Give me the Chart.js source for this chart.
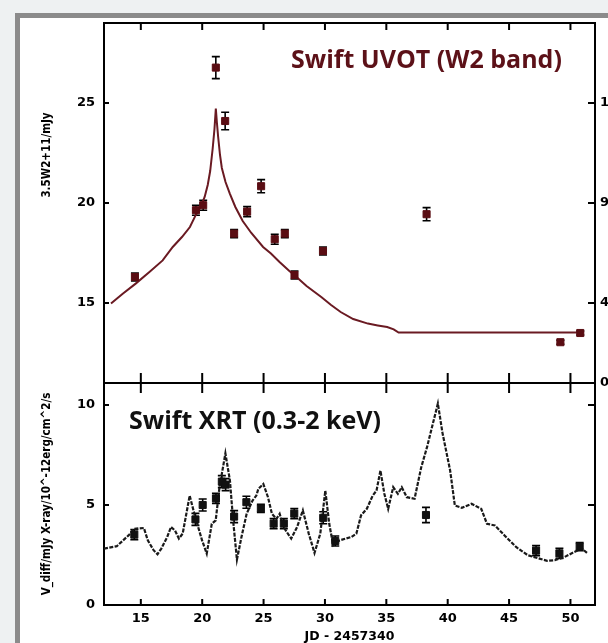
<!DOCTYPE html>
<html>
<head>
<meta charset="utf-8">
<script src="https://cdn.jsdelivr.net/npm/chart.js@4.4.0/dist/chart.umd.min.js"></script>
<style>
  html, body { margin: 0; padding: 0; width: 608px; height: 643px; overflow: hidden; background: #eef1f2; }
  .frame { position: absolute; left: 15px; top: 13px; width: 700px; height: 700px;
           border-left: 5px solid #8b8b8b; border-top: 5px solid #8b8b8b; background: #fff; }
  canvas { position: absolute; left: 0; top: 0; }
</style>
</head>
<body>
<div class="frame"></div>
<canvas id="uvot" width="608" height="643"></canvas>
<canvas id="xrt" width="608" height="643"></canvas>
<script>
// axes
const xTicks = [15, 20, 25, 30, 35, 40, 45, 50];
const uvotTicks = [15, 20, 25];
const uvotRightTicks = [11, 15, 20, 25];
const xrtTicks = [0, 5, 10];

// Swift UVOT W2 points
const uvotJD   = [14.52, 19.49, 20.08, 21.11, 21.87, 22.6, 23.66, 24.8, 25.91, 26.73, 27.52, 29.84, 38.28, 49.18, 50.8];
const uvotFlux = [16.3, 19.64, 19.89, 26.77, 24.1, 18.47, 19.57, 20.84, 18.19, 18.47, 16.4, 17.6, 19.44, 13.04, 13.5];
const uvotErr  = [0.2, 0.25, 0.25, 0.55, 0.44, 0.2, 0.25, 0.33, 0.25, 0.2, 0.2, 0.2, 0.33, 0.1, 0.1];

// model curve
const modelJD   = [12.57, 13.5, 14.58, 15.7, 16.78, 17.6, 18.35, 19.0, 19.46, 19.9, 20.2, 20.45, 20.65, 20.85, 21.0, 21.11,
                   21.2, 21.3, 21.45, 21.6, 21.9, 22.25, 22.7, 23.3, 24.0, 24.96, 25.6, 26.3, 27.1, 27.5, 28.5, 29.7,
                   30.5, 31.28, 32.3, 33.5, 34.3, 35.07, 35.6, 36.0, 51.1];
const modelFlux = [14.97, 15.45, 15.97, 16.55, 17.13, 17.8, 18.3, 18.8, 19.38, 19.85, 20.3, 20.9, 21.6, 22.7, 23.7, 24.72,
                   24.0, 23.3, 22.4, 21.75, 21.05, 20.47, 19.8, 19.1, 18.5, 17.8, 17.47, 17.05, 16.6, 16.4, 15.85, 15.3,
                   14.9, 14.55, 14.2, 13.97, 13.88, 13.8, 13.68, 13.52, 13.52];

// Swift XRT points
const xrtJD   = [14.47, 19.45, 20.04, 21.12, 21.6, 21.91, 22.6, 23.6, 24.78, 25.82, 26.65, 27.5, 29.86, 30.84, 38.23, 47.2, 49.1, 50.75];
const xrtFlux = [3.52, 4.28, 5.0, 5.33, 6.17, 6.02, 4.42, 5.14, 4.83, 4.07, 4.07, 4.57, 4.36, 3.2, 4.5, 2.72, 2.58, 2.92];
const xrtErr  = [0.25, 0.3, 0.3, 0.25, 0.3, 0.3, 0.3, 0.3, 0.2, 0.25, 0.25, 0.25, 0.3, 0.25, 0.38, 0.25, 0.25, 0.2];

// dashed curve in the lower panel
const curveJD   = [12.0, 13.04, 14.0, 14.46, 15.25, 15.57, 16.04, 16.36, 16.67, 17.15, 17.46, 17.78, 18.1, 18.41, 18.98,
                   19.36, 19.67, 19.99, 20.37, 20.78, 21.1, 21.41, 21.89, 22.26, 22.52, 22.83, 23.2, 23.62, 24.1, 24.41,
                   24.57, 24.98, 25.36, 25.68, 26.05, 26.31, 26.62, 27.25, 27.73, 28.2, 28.68, 29.15, 29.62, 30.03, 30.35,
                   30.67, 31.2, 32.15, 32.56, 32.94, 33.41, 33.89, 34.2, 34.52, 34.84, 35.15, 35.56, 35.94, 36.26, 36.67,
                   37.3, 37.84, 38.31, 38.78, 39.2, 39.57, 40.2, 40.58, 41.15, 41.94, 42.73, 43.2, 43.84, 44.63, 45.57,
                   46.52, 47.47, 48.1, 48.73, 49.52, 50.31, 50.94, 51.42];
const curveFlux = [2.82, 2.94, 3.48, 3.81, 3.85, 3.23, 2.74, 2.54, 2.82, 3.4, 3.9, 3.73, 3.32, 3.57, 5.47,
                   4.56, 3.9, 3.23, 2.57, 4.06, 4.23, 5.89, 7.58, 6.22, 4.23, 2.27, 3.4, 4.56, 5.22, 5.47,
                   5.8, 6.05, 5.39, 4.56, 4.31, 4.56, 3.9, 3.32, 3.9, 4.73, 3.57, 2.6, 3.57, 5.72, 4.06,
                   2.99, 3.23, 3.4, 3.57, 4.48, 4.81, 5.47, 5.72, 6.72, 5.56, 4.81, 5.89, 5.56, 5.89, 5.39,
                   5.31, 6.88, 7.88, 9.04, 10.07, 8.62, 6.72, 4.98, 4.86, 5.06, 4.81, 4.06, 3.98, 3.48, 2.9,
                   2.49, 2.32, 2.21, 2.24, 2.4, 2.65, 2.82, 2.57];

const maroon = '#5a0d13';
const tickFont = { family: '"DejaVu Sans", sans-serif', size: 13, weight: 'bold' };
const titleFont = { family: '"DejaVu Sans Condensed", "DejaVu Sans", sans-serif', size: 11.5, weight: 'bold', lineHeight: 1 };

const toPoints = (xs, ys) => xs.map((x, i) => ({ x, y: ys[i] }));
const setTicks = list => scale => { scale.ticks = list.map(v => ({ value: v })); };

// box, inward ticks, error bars and texts
const panel = {
  id: 'panel',
  beforeDatasetsDraw(chart, args, opts) {
    const { ctx, chartArea: a, scales } = chart;
    ctx.save();
    ctx.strokeStyle = '#000';
    ctx.lineWidth = 2;
    ctx.strokeRect(a.left, a.top, a.right - a.left, a.bottom - a.top);
    ctx.beginPath();
    xTicks.forEach(v => {
      const px = scales.x.getPixelForValue(v);
      if (opts.topTick) { ctx.moveTo(px, a.top); ctx.lineTo(px, a.top + opts.topTick); }
      if (opts.bottomTick) { ctx.moveTo(px, a.bottom - opts.bottomTick[0]); ctx.lineTo(px, a.bottom + opts.bottomTick[1]); }
    });
    opts.yTicks.forEach(v => {
      const py = scales.y.getPixelForValue(v);
      ctx.moveTo(a.left, py); ctx.lineTo(a.left + 5, py);
      ctx.moveTo(a.right, py); ctx.lineTo(a.right - 7, py);
    });
    ctx.stroke();

    // error bars
    ctx.lineWidth = 1.6;
    chart.data.datasets.forEach((ds, i) => {
      if (!ds.errors) return;
      const y = scales[ds.yAxisID];
      chart.getDatasetMeta(i).data.forEach((el, j) => {
        const v = ds.data[j].y, e = ds.errors[j];
        const y1 = y.getPixelForValue(v + e), y2 = y.getPixelForValue(v - e);
        ctx.beginPath();
        ctx.moveTo(el.x, y1); ctx.lineTo(el.x, y2);
        ctx.moveTo(el.x - 4, y1); ctx.lineTo(el.x + 4, y1);
        ctx.moveTo(el.x - 4, y2); ctx.lineTo(el.x + 4, y2);
        ctx.stroke();
      });
    });
    ctx.restore();
  },
  afterDraw(chart, args, opts) {
    const { ctx } = chart;
    ctx.save();
    (opts.texts || []).forEach(t => {
      ctx.save();
      ctx.fillStyle = t.color;
      ctx.font = t.font;
      ctx.textBaseline = 'middle';
      ctx.textAlign = t.align || 'left';
      ctx.translate(t.x, t.y);
      if (t.rotate) ctx.rotate(t.rotate);
      ctx.fillText(t.text, 0, 0);
      ctx.restore();
    });
    ctx.restore();
  }
};

new Chart(document.getElementById('uvot'), {
  type: 'scatter',
  data: {
    datasets: [{
      type: 'line',
      data: toPoints(modelJD, modelFlux),
      yAxisID: 'y',
      borderColor: '#6a1a22',
      borderWidth: 2,
      pointRadius: 0,
      tension: 0,
      order: 2
    }, {
      data: toPoints(uvotJD, uvotFlux),
      yAxisID: 'y',
      errors: uvotErr,
      pointStyle: 'rect',
      pointRadius: 5,
      backgroundColor: maroon,
      borderColor: maroon,
      borderWidth: 1,
      order: 1
    }]
  },
  options: {
    responsive: false,
    animation: false,
    events: [],
    layout: { padding: { left: 0, right: 0, top: 23, bottom: 260 } },
    plugins: {
      legend: { display: false },
      tooltip: { enabled: false },
      panel: {
        topTick: 7,
        bottomTick: [10, 10],
        yTicks: uvotTicks,
        texts: [
          { text: 'Swift UVOT (W2 band)', x: 291, y: 61, color: '#5c1118', font: 'bold 25px "Open Sans", sans-serif' },
          { text: '3.5W2+11/mJy', x: 47, y: 155, color: '#000', align: 'center', rotate: -Math.PI / 2,
            font: 'bold 11.5px "DejaVu Sans Condensed", "DejaVu Sans", sans-serif' }
        ]
      }
    },
    scales: {
      x: { type: 'linear', min: 12, max: 52, display: false },
      y: {
        type: 'linear', position: 'left', min: 11, max: 29,
        afterBuildTicks: setTicks(uvotTicks),
        afterFit: s => { s.width = 104; },
        grid: { display: false, drawTicks: false },
        border: { display: false },
        ticks: { padding: 9, color: '#000', font: tickFont }
      },
      yr: {
        type: 'linear', position: 'right', min: 11, max: 29,
        afterBuildTicks: setTicks(uvotRightTicks),
        afterFit: s => { s.width = 13; },
        grid: { display: false, drawTicks: false },
        border: { display: false },
        ticks: { padding: 5, color: '#000', font: tickFont, callback: v => String(v - 11) }
      }
    }
  },
  plugins: [panel]
});

new Chart(document.getElementById('xrt'), {
  type: 'scatter',
  data: {
    datasets: [{
      type: 'line',
      data: toPoints(curveJD, curveFlux),
      yAxisID: 'y',
      borderColor: '#1a1a1a',
      borderWidth: 2.2,
      borderDash: [4, 1.4],
      pointRadius: 0,
      tension: 0,
      order: 2
    }, {
      data: toPoints(xrtJD, xrtFlux),
      yAxisID: 'y',
      errors: xrtErr,
      pointStyle: 'rect',
      pointRadius: 5,
      backgroundColor: '#111',
      borderColor: '#111',
      borderWidth: 1,
      order: 1
    }]
  },
  options: {
    responsive: false,
    animation: false,
    events: [],
    layout: { padding: { left: 0, right: 13, top: 383, bottom: 0 } },
    plugins: {
      legend: { display: false },
      tooltip: { enabled: false },
      panel: {
        bottomTick: [6, 0],
        yTicks: [5, 10],
        texts: [
          { text: 'Swift XRT (0.3-2 keV)', x: 129, y: 422, color: '#111', font: 'bold 25px "Open Sans", sans-serif' }
        ]
      }
    },
    scales: {
      x: {
        type: 'linear', min: 12, max: 52,
        afterBuildTicks: setTicks(xTicks),
        afterFit: s => { s.height = 38; },
        grid: { display: false, drawTicks: false },
        border: { display: false },
        ticks: { padding: 6, color: '#000', font: tickFont },
        title: {
          display: true, text: 'JD - 2457340', color: '#000',
          font: { family: '"DejaVu Sans", sans-serif', size: 12.5, weight: 'bold', lineHeight: 1 },
          padding: { top: 0, bottom: 0 }
        }
      },
      y: {
        type: 'linear', position: 'left', min: 0, max: 11.1,
        afterBuildTicks: setTicks(xrtTicks),
        afterFit: s => { s.width = 104; },
        grid: { display: false, drawTicks: false },
        border: { display: false },
        ticks: { padding: 9, color: '#000', font: tickFont },
        title: {
          display: true, text: 'V_diff/mJy X-ray/10^-12erg/cm^2/s', color: '#000',
          font: titleFont, padding: { top: 41, bottom: 0 }
        }
      }
    }
  },
  plugins: [panel]
});
</script>
</body>
</html>
